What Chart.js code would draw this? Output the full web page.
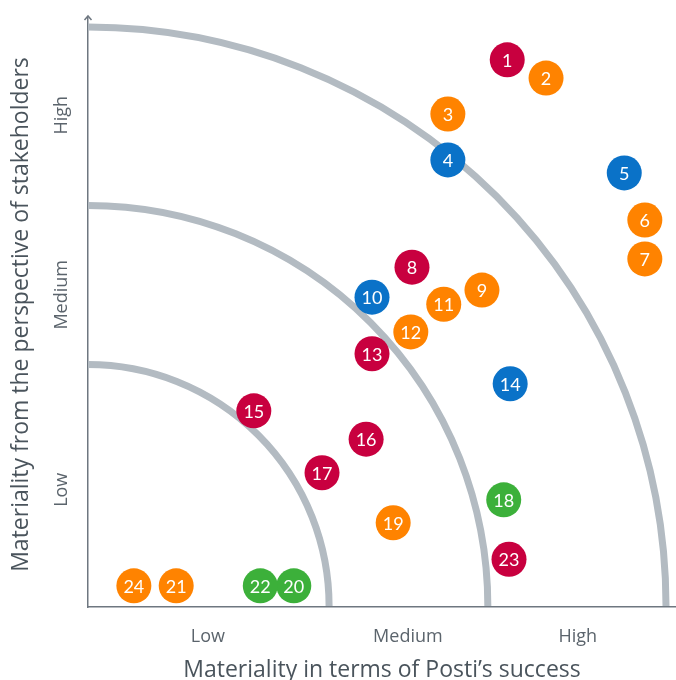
<!DOCTYPE html>
<html>
<head>
<meta charset="utf-8">
<script src="https://cdn.jsdelivr.net/npm/chart.js@4.4.1/dist/chart.umd.min.js"></script>
<style>
  html, body { margin: 0; padding: 0; background: #fff; }
  #wrap { width: 676px; height: 680px; }
</style>
</head>
<body>
<div id="wrap"><canvas id="matrix" width="676" height="680"></canvas></div>
<script>
// materiality topics: id, score for Posti's success (x), score for stakeholders (y)
var topicIds = [1, 2, 3, 4, 5, 6, 7, 8, 9, 10, 11, 12, 13, 14, 15, 16, 17, 18, 19, 20, 21, 22, 23, 24];
var successScores = [71.3, 77.9, 61.2, 61.2, 91.2, 94.7, 94.7, 55.1, 67.0, 48.3, 60.5, 54.9,
                     48.3, 71.8, 28.2, 47.3, 39.8, 70.7, 51.9, 35.0, 15.0, 29.3, 71.6, 7.8];
var stakeholderScores = [92.9, 89.8, 83.7, 75.9, 73.7, 65.7, 59.1, 57.7, 53.8, 52.6, 51.4, 46.7,
                         43.0, 37.9, 33.3, 28.5, 22.8, 18.2, 14.3, 3.6, 3.6, 3.6, 8.1, 3.6];
var topicGroups = ['red', 'orange', 'orange', 'blue', 'blue', 'orange', 'orange', 'red', 'orange', 'blue', 'orange', 'orange',
                   'red', 'blue', 'red', 'red', 'red', 'green', 'orange', 'green', 'orange', 'green', 'red', 'orange'];
var groupColors = { red: '#c8003f', orange: '#ff8300', blue: '#0a72c8', green: '#3cb03a' };

var xTickValues = [20.4, 54.4, 83.3];
var xTickLabels = ['Low', 'Medium', 'High'];
var yTickValues = [19.9, 53, 83.5];
var yTickLabels = ['Low', 'Medium', 'High'];
var yTitle = 'Materiality from the perspective of stakeholders';

// low / medium / high zone boundaries
var zoneRadii = [41, 68, 98.3];

Chart.defaults.font.family = '"Open Sans", sans-serif';

var points = [];
for (var i = 0; i < topicIds.length; i++) {
  points.push({ x: successScores[i], y: stakeholderScores[i] });
}

// quarter circles around the origin
var zonesPlugin = {
  id: 'zones',
  beforeDatasetsDraw: function(chart) {
    var ctx = chart.ctx, xs = chart.scales.x, ys = chart.scales.y;
    var cx = xs.getPixelForValue(0), cy = ys.getPixelForValue(0);
    ctx.save();
    ctx.strokeStyle = '#b3bbc2';
    ctx.lineWidth = 7;
    zoneRadii.forEach(function(r) {
      var rx = xs.getPixelForValue(r) - cx;
      var ry = cy - ys.getPixelForValue(r);
      ctx.beginPath();
      ctx.ellipse(cx, cy - 1, rx, ry, 0, -Math.PI / 2, 0);
      ctx.stroke();
    });
    ctx.restore();
  }
};

// numbers inside the bubbles, rotated y labels / title and the axis arrow
var labelsPlugin = {
  id: 'topicLabels',
  afterDatasetsDraw: function(chart) {
    var ctx = chart.ctx;
    var meta = chart.getDatasetMeta(0);
    ctx.save();
    ctx.fillStyle = '#ffffff';
    ctx.font = '18px Lato, sans-serif';
    ctx.textAlign = 'center';
    ctx.textBaseline = 'middle';
    meta.data.forEach(function(pt, i) {
      ctx.fillText(String(topicIds[i]), pt.x, pt.y + 1);
    });
    ctx.restore();
  },
  afterDraw: function(chart) {
    var ctx = chart.ctx, ys = chart.scales.y;
    var area = chart.chartArea;
    var ax = area.left, top = area.top;
    ctx.save();
    ctx.textAlign = 'center';
    ctx.textBaseline = 'middle';
    ctx.fillStyle = '#5b646c';
    ctx.font = '18px "Open Sans", sans-serif';
    yTickValues.forEach(function(v, i) {
      ctx.save();
      ctx.translate(62, ys.getPixelForValue(v));
      ctx.rotate(-Math.PI / 2);
      ctx.fillText(yTickLabels[i], 0, 0);
      ctx.restore();
    });
    ctx.fillStyle = '#4a545c';
    ctx.font = '23px "Open Sans", sans-serif';
    ctx.save();
    ctx.translate(21, (area.top + area.bottom) / 2 + 2);
    ctx.rotate(-Math.PI / 2);
    ctx.fillText(yTitle, 0, 0);
    ctx.restore();
    ctx.strokeStyle = '#6e7780';
    ctx.lineWidth = 1.5;
    ctx.beginPath();
    ctx.moveTo(ax - 3.5, top + 2);
    ctx.lineTo(ax, top - 2);
    ctx.lineTo(ax + 3.5, top + 2);
    ctx.stroke();
    ctx.restore();
  }
};

new Chart(document.getElementById('matrix'), {
  type: 'scatter',
  data: {
    datasets: [{
      data: points,
      backgroundColor: topicGroups.map(function(g) { return groupColors[g]; }),
      hoverBackgroundColor: topicGroups.map(function(g) { return groupColors[g]; }),
      borderWidth: 0,
      pointRadius: 17.5,
      pointHoverRadius: 17.5,
      clip: false
    }]
  },
  options: {
    responsive: false,
    animation: false,
    devicePixelRatio: 1,
    layout: { autoPadding: false, padding: { top: 18, right: 0, bottom: 0, left: 0 } },
    plugins: { legend: { display: false }, tooltip: { enabled: false } },
    scales: {
      x: {
        type: 'linear',
        min: 0,
        max: 100,
        afterFit: function(scale) {
          scale.height = 73;
          scale.paddingLeft = 0;
          scale.paddingRight = 0;
        },
        afterBuildTicks: function(scale) {
          scale.ticks = xTickValues.map(function(v) { return { value: v }; });
        },
        grid: { display: false, drawTicks: false },
        border: { display: true, color: '#6e7780', width: 1.5 },
        ticks: {
          padding: 19,
          color: '#5b646c',
          font: { size: 18 },
          maxRotation: 0,
          callback: function(value, index) { return xTickLabels[index]; }
        },
        title: {
          display: true,
          text: 'Materiality in terms of Posti\u2019s success',
          color: '#4a545c',
          font: { size: 23 },
          padding: { top: 0, bottom: -4 }
        }
      },
      y: {
        type: 'linear',
        min: 0,
        max: 100,
        afterFit: function(scale) {
          scale.width = 88;
          scale.paddingTop = 0;
          scale.paddingBottom = 0;
        },
        grid: { display: false, drawTicks: false },
        border: { display: true, color: '#6e7780', width: 1.5 },
        ticks: { display: false },
        title: { display: false }
      }
    }
  },
  plugins: [zonesPlugin, labelsPlugin]
});
</script>
</body>
</html>
